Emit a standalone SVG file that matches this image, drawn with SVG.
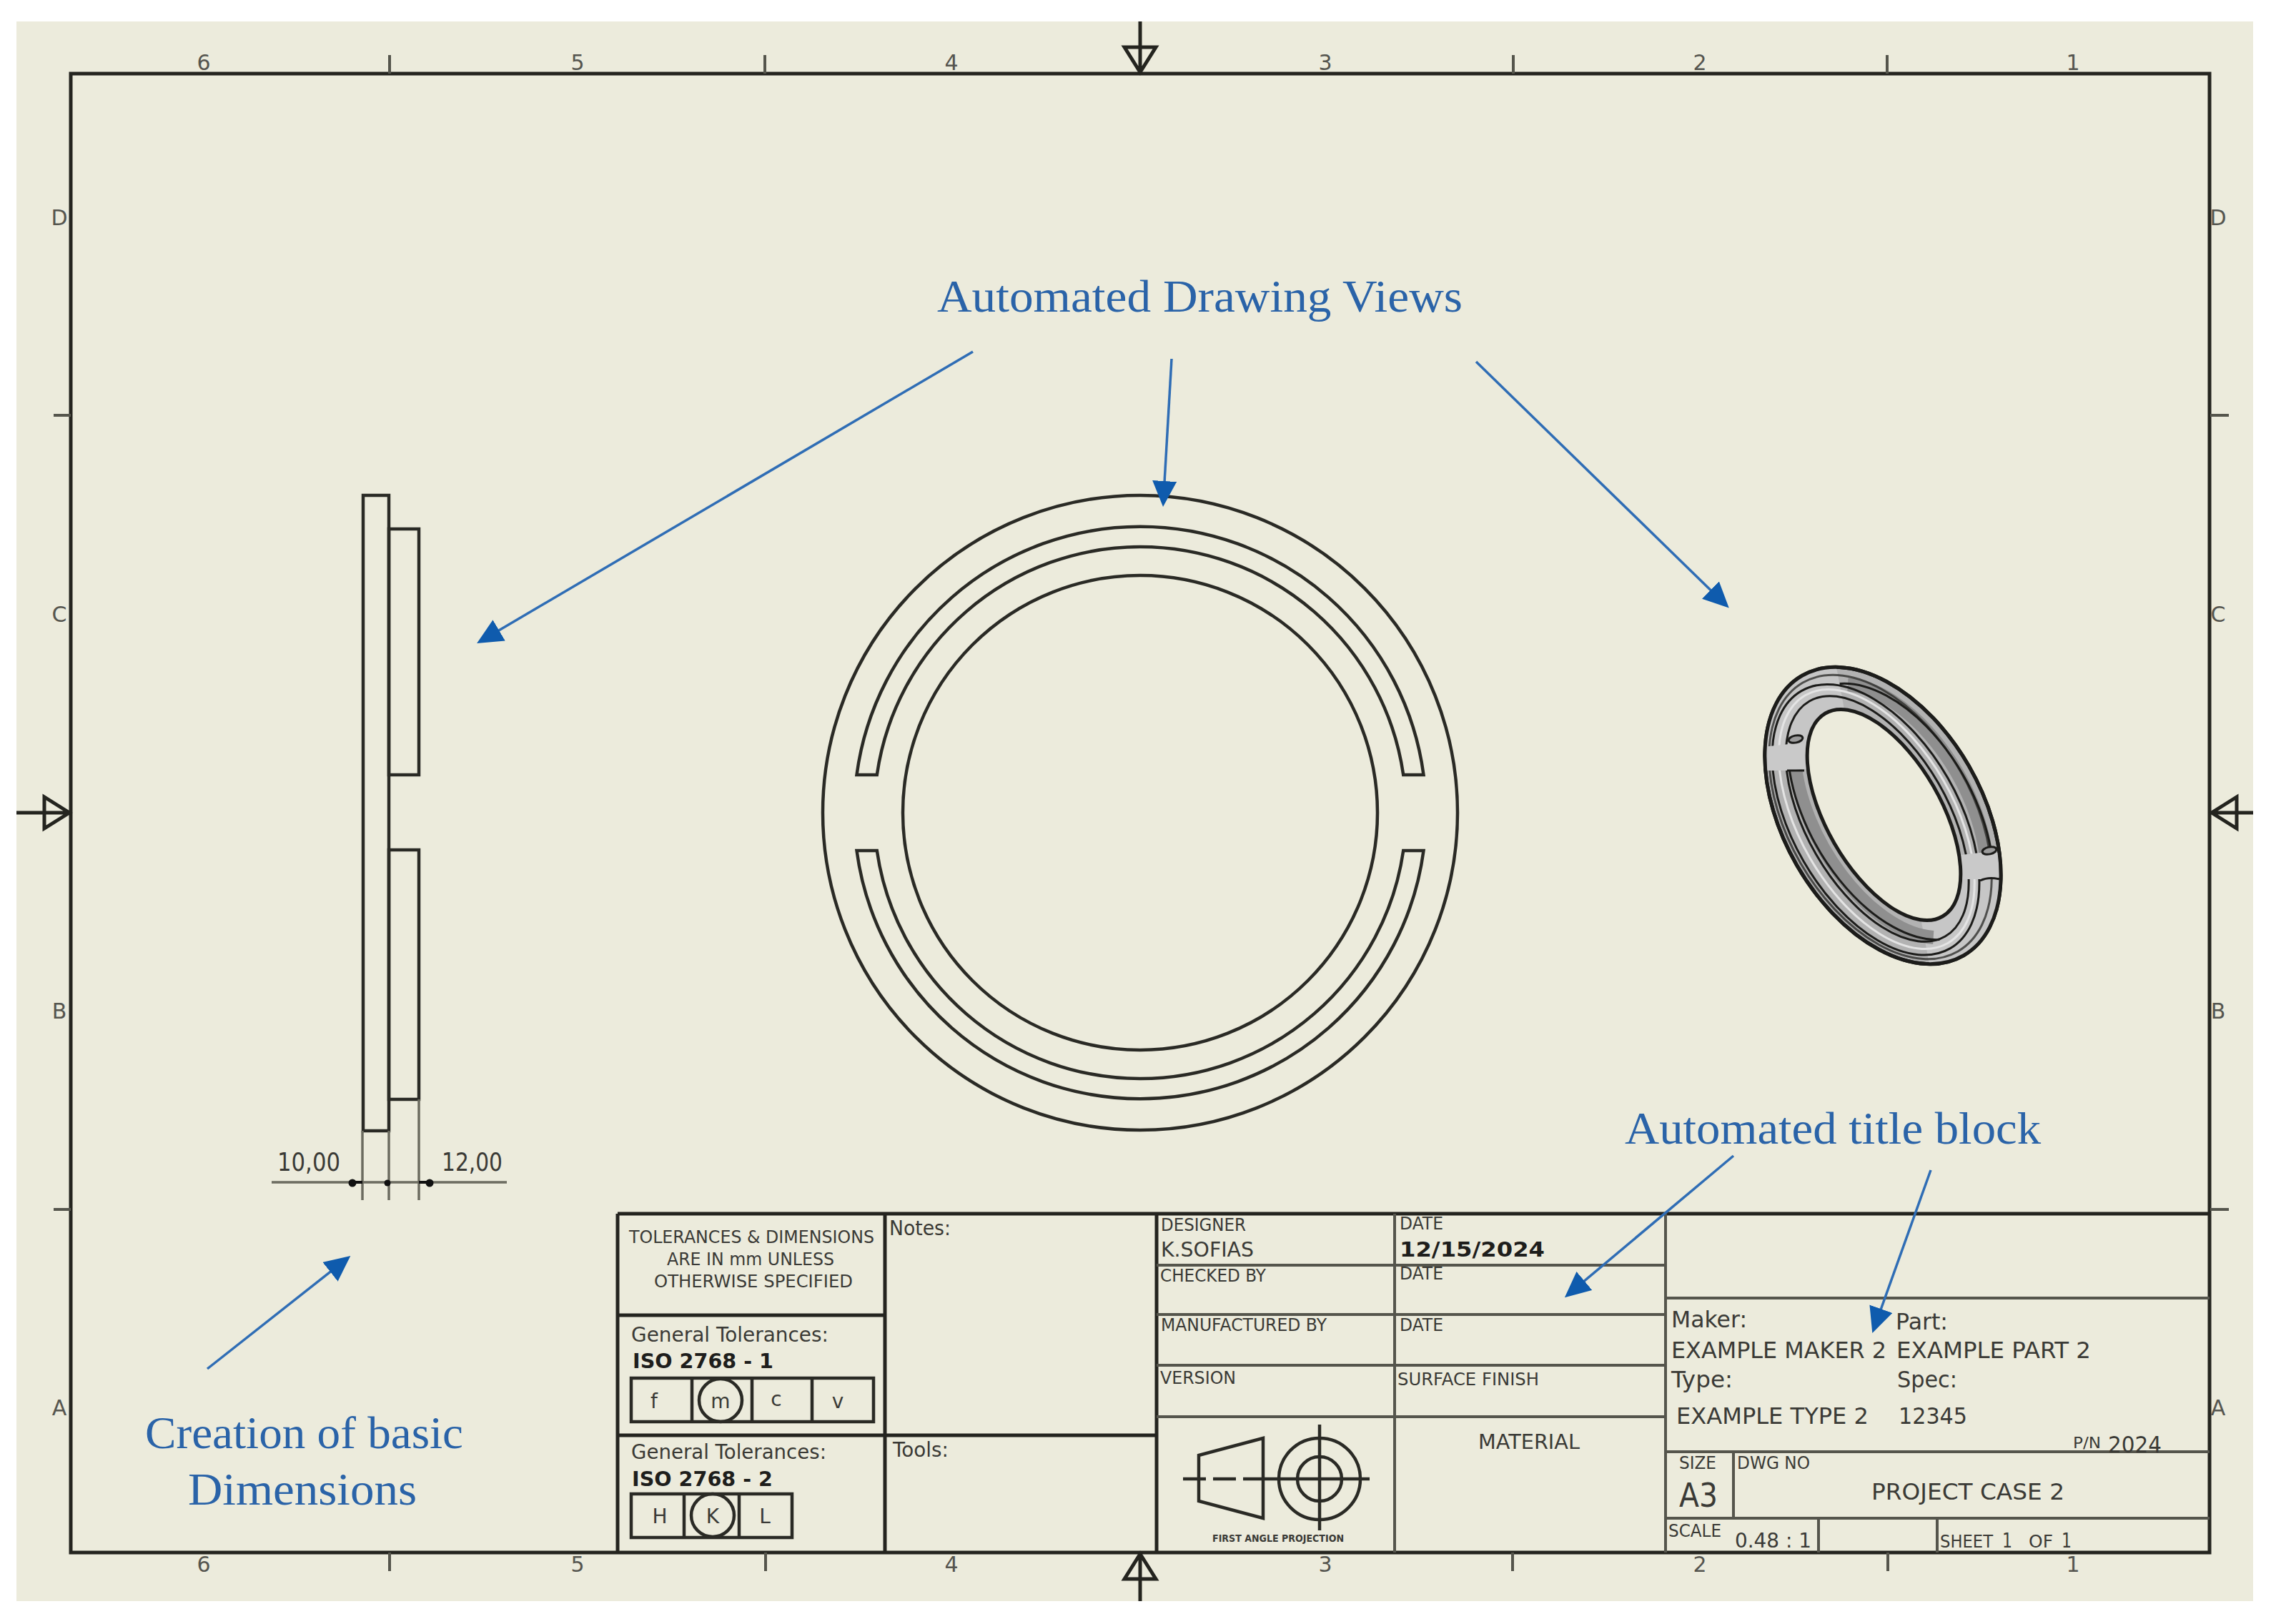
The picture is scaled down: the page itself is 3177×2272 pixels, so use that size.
<svg xmlns="http://www.w3.org/2000/svg" width="3177" height="2272" viewBox="0 0 3177 2272">
<defs>
<style>
text{font-family:"DejaVu Sans","Noto Sans",sans-serif;fill:#3a3a36}
.b{font-weight:bold;fill:#1e1e1c}
.s{font-size:24px}.m{font-size:29px}.l{font-size:32px}
.z{font-size:30px;text-anchor:middle;fill:#55554f}
.call{font-family:"Liberation Serif","DejaVu Serif",serif;font-size:64px;fill:#2a63a8}
.k{stroke:#24241f;stroke-width:5;fill:none}
.g{stroke:#55554c;stroke-width:4;fill:none}
.v{stroke:#2a2a25;stroke-width:4.5;fill:none}
.d{stroke:#6c6c60;stroke-width:3.5;fill:none}
.a{stroke:#2f6db5;stroke-width:3.5;fill:none;marker-end:url(#h)}
.r{stroke:#1c1c1a;stroke-width:3;fill:none}
</style>
<marker id="h" viewBox="0 0 36 34" refX="28" refY="17" markerUnits="userSpaceOnUse" markerWidth="36" markerHeight="34" orient="auto"><path d="M0 0L36 17L0 34Z" fill="#0f5bad"/></marker>
<clipPath id="oc"><ellipse cx="0" cy="0" rx="226" ry="139" transform="translate(2634 1141) rotate(60)"/></clipPath>
</defs>
<rect width="3177" height="2272" fill="#fff"/>
<rect x="23" y="30" width="3129" height="2210" fill="#ecebdc"/>

<g id="border">
<rect class="k" x="99" y="103" width="2992" height="2069"/>
<path class="g" d="M545 77V103M1070 77V103M2117 77V103M2640 77V103M545 2172V2198M1071 2172V2198M2116 2172V2198M2641 2172V2198M75 581H99M75 1692H99M3092 581H3118M3092 1692H3118"/>
<path class="k" d="M1595 30V103M1573 66H1617L1595 101ZM1595 2172V2240M1573 2209H1617L1595 2174ZM23 1137H99M62 1115V1159L97 1137ZM3092 1137H3152M3129 1115V1159L3094 1137Z"/>
<text class="z" x="285" y="98">6</text><text class="z" x="808" y="98">5</text><text class="z" x="1331" y="98">4</text><text class="z" x="1854" y="98">3</text><text class="z" x="2378" y="98">2</text><text class="z" x="2900" y="98">1</text>
<text class="z" x="285" y="2199">6</text><text class="z" x="808" y="2199">5</text><text class="z" x="1331" y="2199">4</text><text class="z" x="1854" y="2199">3</text><text class="z" x="2378" y="2199">2</text><text class="z" x="2900" y="2199">1</text>
<text class="z" x="83" y="315">D</text><text class="z" x="83" y="870">C</text><text class="z" x="83" y="1425">B</text><text class="z" x="83" y="1980">A</text>
<text class="z" x="3103" y="315">D</text><text class="z" x="3103" y="870">C</text><text class="z" x="3103" y="1425">B</text><text class="z" x="3103" y="1980">A</text>
</g>

<g id="side-view">
<rect class="v" x="508" y="693" width="36" height="889"/>
<rect class="v" x="544" y="740" width="42" height="344"/>
<rect class="v" x="544" y="1189" width="42" height="349"/>
<path class="d" d="M507 1582V1679M544 1582V1679M586 1538V1679M380 1654H709"/>
<circle cx="493" cy="1655" r="5.5" fill="#111"/><circle cx="542" cy="1655" r="4.5" fill="#111"/><circle cx="601" cy="1655" r="5.5" fill="#111"/>
<path d="M490 1654H507M586 1654H604" stroke="#111" stroke-width="4"/>
<text x="388" y="1638" font-size="36" textLength="88" lengthAdjust="spacingAndGlyphs">10,00</text>
<text x="618" y="1638" font-size="36" textLength="85" lengthAdjust="spacingAndGlyphs">12,00</text>
</g>

<g id="front-view">
<circle class="v" cx="1595" cy="1137" r="444"/>
<circle class="v" cx="1595" cy="1137" r="332"/>
<path class="v" d="M1198.5 1084A400 400 0 0 1 1991.5 1084H1963.2A372 372 0 0 0 1226.8 1084Z"/>
<path class="v" d="M1198.5 1190A400 400 0 0 0 1991.5 1190H1963.2A372 372 0 0 1 1226.8 1190Z"/>
</g>

<g id="iso-view">
<g transform="translate(2634 1141) rotate(60)">
<ellipse cx="0" cy="0" rx="226" ry="139" fill="#b2b2b2" stroke="#1c1c1a" stroke-width="5"/>
<path d="M-150 103A226 139 0 0 1 -212 -47.5L-154 -27A164 80 0 0 0 -120 55Z" fill="#c6c6c6"/>
<path d="M150 -103A226 139 0 0 1 212 47.5L154 27A164 80 0 0 0 120 -55Z" fill="#c6c6c6"/>
<path d="M-183 -49A195 107.5 0 0 1 138 -88.5M183 24A195 107.5 0 0 1 -138 63.5" fill="none" stroke="#8f8f8f" stroke-width="19"/>
<ellipse cx="0" cy="10" rx="200" ry="108" fill="none" stroke="#e4e4e4" stroke-width="3"/>
<ellipse class="r" cx="0" cy="11.5" rx="208" ry="116.5"/>
<ellipse class="r" cx="0" cy="9" rx="190" ry="99"/>
<path class="r" d="M-190 -40A204 117 0 0 1 144 -95M190 18A204 117 0 0 1 -145 70"/>
<ellipse class="r" cx="0" cy="4" rx="217" ry="129" opacity=".7"/>
</g>
<g clip-path="url(#oc)">
<path d="M2465 1045L2512 1040L2535 1040V1075L2500 1078H2465Z" fill="#c9c9c9"/>
<path d="M2735 1197L2770 1193H2805V1226L2775 1230H2735Z" fill="#c9c9c9"/>
</g>
<ellipse cx="2512" cy="1034" rx="10" ry="5" fill="#9b9b9b" stroke="#1c1c1a" stroke-width="3" transform="rotate(-12 2512 1034)"/>
<ellipse cx="2783" cy="1190" rx="10" ry="5" fill="#9b9b9b" stroke="#1c1c1a" stroke-width="3" transform="rotate(-12 2783 1190)"/>
<path class="r" d="M2500 1078H2524M2770 1232Q2782 1226 2797 1230"/>
<ellipse cx="0" cy="0" rx="226" ry="139" fill="none" stroke="#1c1c1a" stroke-width="5" transform="translate(2634 1141) rotate(60)"/>
<ellipse cx="0" cy="0" rx="164" ry="80" fill="#ecebdc" stroke="#1c1c1a" stroke-width="5" transform="translate(2635.5 1140) rotate(60)"/>
</g>

<g id="title-block-left">
<path class="k" d="M864 1698V2172M1238 1698V2172M1618 1698V2172M864 1698H3091M864 1840H1238M864 2008H1618"/>
<text x="880" y="1739" class="s" textLength="343" lengthAdjust="spacingAndGlyphs">TOLERANCES &amp; DIMENSIONS</text>
<text x="933" y="1770" class="s" textLength="234" lengthAdjust="spacingAndGlyphs">ARE IN mm UNLESS</text>
<text x="915" y="1801" class="s" textLength="278" lengthAdjust="spacingAndGlyphs">OTHERWISE SPECIFIED</text>
<text x="883" y="1877" class="m" textLength="276" lengthAdjust="spacingAndGlyphs">General Tolerances:</text>
<text x="885" y="1914" class="m b" textLength="197" lengthAdjust="spacingAndGlyphs">ISO 2768 - 1</text>
<rect class="v" x="883" y="1928" width="339" height="61"/>
<path class="v" d="M968 1928V1989M1052 1928V1989M1136 1928V1989"/>
<circle cx="1008" cy="1959" r="30" class="v"/>
<g font-size="28" text-anchor="middle"><text x="915" y="1970">f</text><text x="1008" y="1970">m</text><text x="1086" y="1967">c</text><text x="1172" y="1970">v</text></g>
<text x="1244" y="1728" class="m" textLength="86" lengthAdjust="spacingAndGlyphs">Notes:</text>
<text x="1249" y="2038" class="m" textLength="78" lengthAdjust="spacingAndGlyphs">Tools:</text>
<text x="883" y="2041" class="m" textLength="273" lengthAdjust="spacingAndGlyphs">General Tolerances:</text>
<text x="884" y="2079" class="m b" textLength="197" lengthAdjust="spacingAndGlyphs">ISO 2768 - 2</text>
<rect class="v" x="883" y="2090" width="225" height="61"/>
<path class="v" d="M957 2090V2151M1034 2090V2151"/>
<circle cx="997" cy="2120" r="30" class="v"/>
<g font-size="28" text-anchor="middle"><text x="923" y="2131">H</text><text x="997" y="2131">K</text><text x="1070" y="2131">L</text></g>
</g>

<g id="title-block-middle">
<path class="g" d="M1951 1698V2172M1618 1770H2330M1618 1839H2330M1618 1910H2330M1618 1982H2330"/>
<g class="s">
<text x="1624" y="1722" textLength="119" lengthAdjust="spacingAndGlyphs">DESIGNER</text>
<text x="1958" y="1720" textLength="61" lengthAdjust="spacingAndGlyphs">DATE</text>
<text x="1623" y="1793" textLength="148" lengthAdjust="spacingAndGlyphs">CHECKED BY</text>
<text x="1958" y="1790" textLength="61" lengthAdjust="spacingAndGlyphs">DATE</text>
<text x="1624" y="1862" textLength="232" lengthAdjust="spacingAndGlyphs">MANUFACTURED BY</text>
<text x="1958" y="1862" textLength="61" lengthAdjust="spacingAndGlyphs">DATE</text>
<text x="1623" y="1936" textLength="106" lengthAdjust="spacingAndGlyphs">VERSION</text>
<text x="1955" y="1938" textLength="198" lengthAdjust="spacingAndGlyphs">SURFACE FINISH</text>
</g>
<text x="1624" y="1758" class="m" textLength="130" lengthAdjust="spacingAndGlyphs">K.SOFIAS</text>
<text x="1958" y="1758" class="m b" textLength="203" lengthAdjust="spacingAndGlyphs">12/15/2024</text>
<text x="2068" y="2027" class="m" textLength="142" lengthAdjust="spacingAndGlyphs">MATERIAL</text>
<g id="projection-symbol">
<path class="v" d="M1677 2036L1767 2012V2124L1677 2100Z"/>
<circle class="v" cx="1846" cy="2069" r="57"/><circle class="v" cx="1846" cy="2069" r="31"/>
<path class="v" d="M1846 1993V2141M1767 2069H1916"/>
<path class="v" stroke-dasharray="32 10" d="M1655 2069H1767"/>
<text x="1696" y="2157" font-size="14" font-weight="bold" textLength="184" lengthAdjust="spacingAndGlyphs">FIRST ANGLE PROJECTION</text>
</g>
</g>

<g id="title-block-right">
<path class="g" d="M2330 1698V2172M2330 1816H3091M2330 2031H3091M2330 2124H3091M2425 2031V2124M2544 2124V2172M2710 2124V2172"/>
<text x="2338" y="1857" class="l" textLength="106" lengthAdjust="spacingAndGlyphs">Maker:</text>
<text x="2652" y="1860" class="l" textLength="73" lengthAdjust="spacingAndGlyphs">Part:</text>
<text x="2338" y="1900" class="l" textLength="301" lengthAdjust="spacingAndGlyphs">EXAMPLE MAKER 2</text>
<text x="2653" y="1900" class="l" textLength="272" lengthAdjust="spacingAndGlyphs">EXAMPLE PART 2</text>
<text x="2338" y="1941" class="l" textLength="86" lengthAdjust="spacingAndGlyphs">Type:</text>
<text x="2654" y="1941" class="l" textLength="84" lengthAdjust="spacingAndGlyphs">Spec:</text>
<text x="2345" y="1992" class="l" textLength="269" lengthAdjust="spacingAndGlyphs">EXAMPLE TYPE 2</text>
<text x="2656" y="1992" class="l" textLength="96" lengthAdjust="spacingAndGlyphs">12345</text>
<text x="2900" y="2026" font-size="22" textLength="39" lengthAdjust="spacingAndGlyphs">P/N</text>
<text x="2949" y="2032" class="l" textLength="75" lengthAdjust="spacingAndGlyphs">2024</text>
<text x="2349" y="2055" class="s" textLength="52" lengthAdjust="spacingAndGlyphs">SIZE</text>
<text x="2430" y="2055" class="s" textLength="102" lengthAdjust="spacingAndGlyphs">DWG NO</text>
<text x="2349" y="2108" font-size="46" textLength="54" lengthAdjust="spacingAndGlyphs">A3</text>
<text x="2618" y="2098" class="l" textLength="270" lengthAdjust="spacingAndGlyphs">PROJECT CASE 2</text>
<text x="2334" y="2150" class="s" textLength="74" lengthAdjust="spacingAndGlyphs">SCALE</text>
<text x="2427" y="2165" class="m" textLength="107" lengthAdjust="spacingAndGlyphs">0.48 : 1</text>
<text x="2714" y="2165" class="s" textLength="74" lengthAdjust="spacingAndGlyphs">SHEET</text>
<text x="2801" y="2165" class="m" textLength="14" lengthAdjust="spacingAndGlyphs">1</text>
<text x="2838" y="2165" class="s" textLength="34" lengthAdjust="spacingAndGlyphs">OF</text>
<text x="2884" y="2165" class="m" textLength="14" lengthAdjust="spacingAndGlyphs">1</text>
</g>

<g id="connectors">
<path class="a" d="M1361 492L674 896"/>
<path class="a" d="M1639 502L1627.5 701"/>
<path class="a" d="M2065 506L2413 845"/>
<path class="a" d="M290 1915L484 1762"/>
<path class="a" d="M2425 1617L2195 1810"/>
<path class="a" d="M2701 1637L2622 1857.5"/>
</g>

<g id="callouts">
<text class="call" x="1311" y="436" textLength="735" lengthAdjust="spacingAndGlyphs">Automated Drawing Views</text>
<text class="call" x="2273" y="1600" textLength="582" lengthAdjust="spacingAndGlyphs">Automated title block</text>
<text class="call" x="203" y="2026" textLength="445" lengthAdjust="spacingAndGlyphs">Creation of basic</text>
<text class="call" x="263" y="2105" textLength="320" lengthAdjust="spacingAndGlyphs">Dimensions</text>
</g>
</svg>
